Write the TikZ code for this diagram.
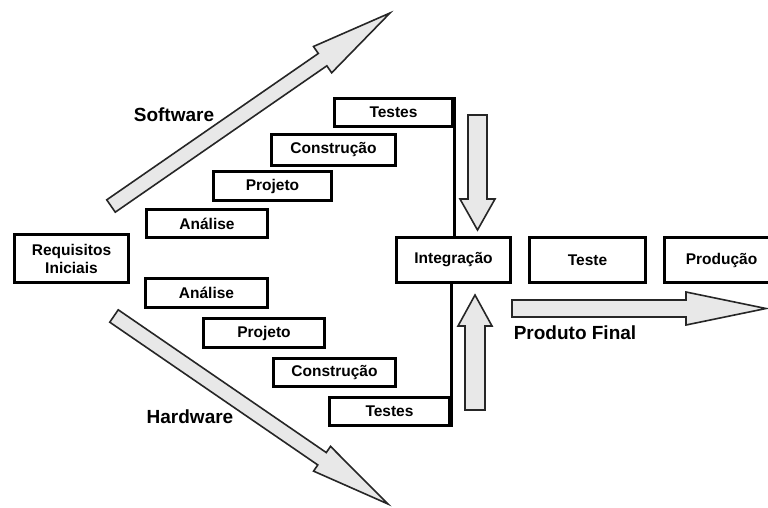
\documentclass[tikz,border=0pt]{standalone}
\usepackage{fontspec}
\setmainfont{Liberation Sans}
\usetikzlibrary{calc}

% Fat block arrow from #1 (tail centre) to #2 (tip):
% #3 = half shaft width, #4 = half head width, #5 = head length
\newcommand\fatarrow[5]{%
  \coordinate (hb) at ($(#2)!#5!(#1)$);
  \draw[blockarrow]
    ($(#1)!#3!90:(#2)$) -- ($(hb)!#3!90:(#2)$) -- ($(hb)!#4!90:(#2)$)
    -- (#2)
    -- ($(hb)!#4!-90:(#2)$) -- ($(hb)!#3!-90:(#2)$) -- ($(#1)!#3!-90:(#2)$)
    -- cycle;
}

\tikzset{
  stagebox/.style={draw=black, line width=3pt, fill=white, rectangle,
    inner sep=0pt, font=\fontsize{15.5}{18}\selectfont\bfseries, align=center},
  barline/.style={line width=3pt},
  blockarrow/.style={draw=black!85, fill=black!9, line width=1.6pt, line join=miter},
  sidelabel/.style={font=\fontsize{19}{22}\selectfont\bfseries, inner sep=0pt}
}

\begin{document}
\begin{tikzpicture}[x=1pt, y=-1pt]
\useasboundingbox (0,0) rectangle (768,507);
\clip (0,0) rectangle (768,507);

% --- requirements and the two branches -------------------------------
\node[stagebox, minimum width=114pt, minimum height=48pt] (req) at (71.5,258.5) {Requisitos\\Iniciais};

% software branch
\node[stagebox, minimum width=118pt, minimum height=28pt] (swTestes) at (393.5,112.5) {Testes};
\node[stagebox, minimum width=124pt, minimum height=31pt] (swConstr) at (333.5,150) {Construção};
\node[stagebox, minimum width=118pt, minimum height=29pt] (swProj) at (272.5,186) {Projeto};
\node[stagebox, minimum width=121pt, minimum height=28pt] (swAnal) at (207,223.5) {Análise};

% hardware branch
\node[stagebox, minimum width=122pt, minimum height=29pt] (hwAnal) at (206.5,293) {Análise};
\node[stagebox, minimum width=121pt, minimum height=29pt] (hwProj) at (264,333) {Projeto};
\node[stagebox, minimum width=122pt, minimum height=28pt] (hwConstr) at (334.5,372.5) {Construção};
\node[stagebox, minimum width=120pt, minimum height=28pt] (hwTestes) at (389.5,411.5) {Testes};

% --- integration and the final stages ---------------------------------
\node[stagebox, minimum width=114pt, minimum height=45pt] (integ) at (453.5,260) {Integração};
\node[stagebox, minimum width=116pt, minimum height=45pt] (teste) at (587.5,260) {Teste};
\node[stagebox, minimum width=114pt, minimum height=45pt] (prod) at (721.5,260) {Produção};

% bars joining the last test stages to the integration box
\draw[barline] (swTestes.north east) -- (swTestes.north east |- integ.north);
\draw[barline] (integ.south -| hwTestes.east) -- (hwTestes.south east);

% --- block arrows -------------------------------------------------------
\coordinate (swTail) at (111,206);
\coordinate (swTip)  at (390,13);
\coordinate (hwTail) at (114,316);
\coordinate (hwTip)  at (388,504);
\coordinate (dnTail) at (477.5,115);
\coordinate (dnTip)  at (477.5,230);
\coordinate (upTail) at (475,410);
\coordinate (upTip)  at (475,295);
\coordinate (pfTail) at (512,308.5);
\coordinate (pfTip)  at (766,308.5);

\fatarrow{swTail}{swTip}{7.5pt}{16pt}{82pt}
\fatarrow{hwTail}{hwTip}{7.5pt}{15pt}{80pt}
\fatarrow{dnTail}{dnTip}{9.5pt}{17.5pt}{31pt}
\fatarrow{upTail}{upTip}{10pt}{17pt}{31pt}
\fatarrow{pfTail}{pfTip}{8.5pt}{16.5pt}{80pt}

% --- labels ------------------------------------------------------------
\node[sidelabel] (lblSw) at (174,115) {Software};
\node[sidelabel] (lblHw) at (190,417) {Hardware};
\node[sidelabel] (lblPf) at (575,333) {Produto Final};
\end{tikzpicture}
\end{document}
